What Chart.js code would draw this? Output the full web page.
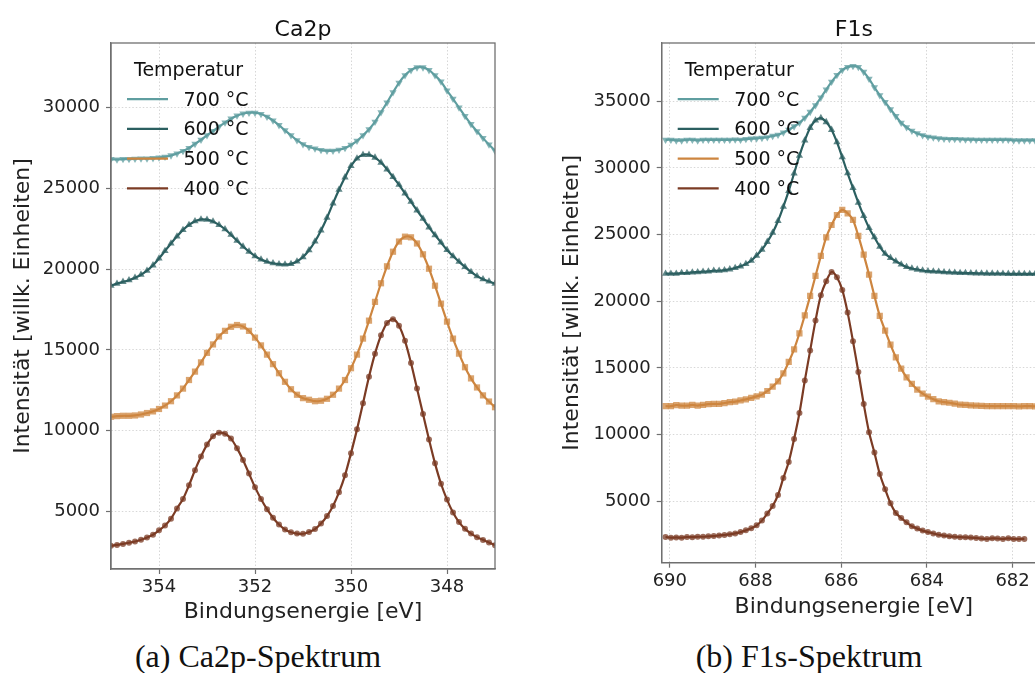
<!DOCTYPE html>
<html lang="de">
<head>
<meta charset="utf-8">
<title>Ca2p / F1s Spektren</title>
<script src="https://cdn.jsdelivr.net/npm/chart.js@4.4.1/dist/chart.umd.min.js"></script>
<style>
  html, body { margin: 0; padding: 0; background: #fff; overflow: hidden; }
  body { width: 1035px; height: 673px; position: relative; }
  canvas { position: absolute; top: 0; }
  #chartCa { left: 0; }
  #chartF { left: 540px; }
  .caption {
    position: absolute; top: 640px; line-height: 32px;
    font-family: "Liberation Serif", "DejaVu Serif", serif; font-size: 32px;
    color: #111; white-space: nowrap; transform: translateX(-50%);
  }
</style>
</head>
<body>
<canvas id="chartCa" width="530" height="630"></canvas>
<canvas id="chartF" width="560" height="630"></canvas>
<div class="caption" style="left:258px">(a) Ca2p-Spektrum</div>
<div class="caption" style="left:809px">(b) F1s-Spektrum</div>

<script>
// --- Ca2p: energy grid 355 -> 347 eV in 0.125 eV steps ---
const caStart = 355.0;
const caStep = 0.125;
const ca700 = [26790, 26770, 26790, 26790, 26810, 26830, 26830, 26850, 26890, 26940, 27020, 27140, 27290, 27480, 27730, 27980, 28260,
  28530, 28800, 29050, 29290, 29480, 29600, 29660, 29660, 29580, 29410, 29180, 28890, 28570, 28260, 27960, 27710,
  27540, 27440, 27350, 27310, 27310, 27370, 27480, 27670, 27920, 28260, 28640, 29100, 29690, 30290, 30920, 31510,
  31970, 32290, 32460, 32460, 32290, 31970, 31580, 31030, 30520, 29980, 29450, 28950, 28510, 28090, 27690, 27310];
const ca600 = [18975, 19100, 19210, 19310, 19460, 19650, 19900, 20230, 20650, 21120, 21580, 22020, 22420, 22730, 22960, 23070, 23050,
  22940, 22730, 22460, 22120, 21750, 21390, 21080, 20800, 20590, 20450, 20360, 20300, 20280, 20320, 20470, 20740,
  21160, 21700, 22380, 23170, 24060, 24900, 25670, 26370, 26830, 27060, 27060, 26890, 26580, 26160, 25690, 25210,
  24680, 24160, 23630, 23110, 22580, 22100, 21640, 21180, 20800, 20450, 20130, 19820, 19560, 19370, 19230, 19100];
const ca500 = [10870, 10910, 10930, 10930, 10950, 11010, 11100, 11200, 11350, 11560, 11830, 12190, 12610, 13140, 13660, 14230, 14820,
  15340, 15830, 16180, 16430, 16540, 16450, 16180, 15760, 15280, 14710, 14120, 13560, 13030, 12570, 12230, 12020,
  11920, 11830, 11860, 11980, 12230, 12610, 13140, 13870, 14710, 15700, 16810, 17970, 19120, 20170, 21070, 21700,
  22000, 21960, 21580, 20910, 20020, 18970, 17860, 16750, 15700, 14770, 13930, 13240, 12680, 12190, 11810, 11460];
const ca400 = [2890, 2950, 3010, 3080, 3160, 3270, 3410, 3580, 3850, 4150, 4570, 5200, 5790, 6630, 7570, 8410, 9150,
  9670, 9880, 9820, 9520, 8930, 8200, 7360, 6520, 5790, 5160, 4630, 4210, 3900, 3730, 3650, 3640,
  3750, 3930, 4270, 4730, 5360, 6200, 7250, 8620, 10090, 11710, 13340, 14770, 15900, 16660, 16900, 16500,
  15560, 14190, 12620, 11040, 9470, 7990, 6730, 5750, 4950, 4360, 3940, 3650, 3430, 3260, 3100, 2930];
const caTicksX = [354, 352, 350, 348];
const caTicksY = [5000, 10000, 15000, 20000, 25000, 30000];

// --- F1s: energy grid 690.1 eV downwards in 0.125 eV steps ---
const fStart = 690.1;
const fStep = 0.125;
const f700 = [32110, 32110, 32060, 32060, 32110, 32110, 32060, 32110, 32110, 32110, 32110, 32110, 32110, 32120, 32110, 32160, 32200,
  32210, 32250, 32300, 32400, 32480, 32650, 32860, 33110, 33380, 33760, 34200, 34700, 35280, 35880, 36460, 36960,
  37340, 37560, 37640, 37560, 37200, 36680, 36040, 35450, 34930, 34400, 33880, 33380, 33050, 32780, 32590, 32440,
  32330, 32270, 32220, 32190, 32170, 32160, 32150, 32130, 32130, 32110, 32110, 32110, 32110, 32110, 32110, 32110,
  32060, 32060, 32060, 32060, 32060];
const f600 = [22070, 22070, 22070, 22120, 22120, 22170, 22190, 22220, 22240, 22290, 22290, 22340, 22400, 22500, 22620, 22800, 23050,
  23430, 23880, 24460, 25140, 26020, 27100, 28280, 29590, 30920, 32060, 33010, 33570, 33740, 33440, 32860, 31930,
  30800, 29600, 28500, 27400, 26400, 25500, 24800, 24100, 23570, 23260, 23000, 22770, 22570, 22460, 22380, 22310,
  22260, 22240, 22220, 22190, 22170, 22150, 22130, 22120, 22110, 22100, 22090, 22080, 22080, 22070, 22070, 22060,
  22060, 22060, 22050, 22050, 22050];
const f500 = [12130, 12130, 12220, 12170, 12170, 12230, 12170, 12230, 12280, 12300, 12300, 12370, 12430, 12480, 12560, 12640, 12750,
  12870, 13000, 13270, 13600, 14000, 14600, 15450, 16400, 17600, 18950, 20400, 21900, 23400, 24800, 25720, 26470,
  26850, 26600, 26100, 24900, 23500, 22000, 20400, 18900, 17800, 16750, 15800, 14950, 14300, 13800, 13380, 13080,
  12850, 12660, 12500, 12440, 12390, 12320, 12250, 12230, 12190, 12170, 12160, 12140, 12130, 12130, 12140, 12130,
  12130, 12120, 12130, 12130, 12120];
const f400 = [2320, 2270, 2290, 2270, 2320, 2310, 2340, 2340, 2370, 2390, 2440, 2470, 2520, 2590, 2690, 2820, 2970,
  3200, 3550, 4080, 4650, 5470, 6750, 7950, 9670, 11620, 14050, 16300, 18550, 20450, 21500, 22200, 21800,
  20850, 19150, 17000, 14700, 12300, 10170, 8650, 7050, 5900, 4850, 4120, 3740, 3420, 3130, 2950, 2800,
  2690, 2580, 2490, 2430, 2370, 2340, 2310, 2300, 2280, 2250, 2200, 2180, 2220, 2210, 2170, 2220,
  2170, 2170, 2180];
const fTicksX = [690, 688, 686, 684, 682];
const fTicksY = [5000, 10000, 15000, 20000, 25000, 30000, 35000];

const tempLabels = ["700 °C", "600 °C", "500 °C", "400 °C"];

// styles, in legend order
const lineColors = ["#5f9ea0", "#2b5f60", "#cd853f", "#7b3b24"];
const markerColors = ["rgba(95,158,160,0.75)", "rgba(43,95,96,0.75)", "rgba(205,133,63,0.75)", "rgba(123,59,36,0.75)"];
const markerShapes = [
  { pointStyle: "triangle", pointRotation: 180, pointRadius: 4.2 },
  { pointStyle: "triangle", pointRotation: 0, pointRadius: 4.2 },
  { pointStyle: "rect", pointRotation: 0, pointRadius: 4.4 },
  { pointStyle: "circle", pointRotation: 0, pointRadius: 3.0 }
];

const FONT = "DejaVu Sans";
const textColor = "#222";
const frameColor = "#707070";
const gridColor = "rgba(0,0,0,0.2)";

Chart.defaults.font.family = FONT;

// frame, title and legend drawn on top of the curves
const panelDecor = {
  id: "panelDecor",
  afterDatasetsDraw(chart, args, o) {
    const { ctx, chartArea: a } = chart;
    ctx.save();
    ctx.strokeStyle = frameColor;
    ctx.lineWidth = 1.3;
    ctx.strokeRect(a.left, a.top, a.right - a.left, a.bottom - a.top);

    ctx.fillStyle = "#111";
    ctx.font = "22px '" + FONT + "'";
    ctx.textAlign = "center";
    ctx.textBaseline = "alphabetic";
    ctx.fillText(o.title, (a.left + a.right) / 2, 36);

    ctx.font = "19px '" + FONT + "'";
    ctx.textAlign = "left";
    ctx.fillText("Temperatur", a.left + 23, a.top + 32.7);
    tempLabels.forEach((lab, k) => {
      const base = a.top + 62.7 + k * 29.7;
      ctx.strokeStyle = lineColors[k];
      ctx.lineWidth = 2.3;
      ctx.beginPath();
      ctx.moveTo(a.left + 16, base - 6.5);
      ctx.lineTo(a.left + 57, base - 6.5);
      ctx.stroke();
      ctx.fillText(lab, a.left + 72.5, base);
    });
    ctx.restore();
  }
};

function makePanel(id, p) {
  const datasets = [];
  p.series.forEach((vals, k) => {
    const pts = vals.map((v, i) => ({ x: +(p.start - p.step * i).toFixed(3), y: v }));
    datasets.push({
      data: pts,
      showLine: false,
      pointStyle: markerShapes[k].pointStyle,
      rotation: markerShapes[k].pointRotation,
      pointRadius: markerShapes[k].pointRadius,
      pointBackgroundColor: markerColors[k],
      pointBorderWidth: 0,
      order: 10 + k
    });
    datasets.push({
      data: pts,
      borderColor: lineColors[k],
      borderWidth: 2.2,
      pointRadius: 0,
      tension: 0.3,
      order: k
    });
  });

  const tickFont = { family: FONT, size: 18 };
  const titleFont = { family: FONT, size: 22 };

  return new Chart(document.getElementById(id), {
    type: "line",
    data: { datasets },
    options: {
      responsive: false,
      animation: false,
      events: [],
      layout: { padding: { left: 0, top: 43, right: p.padRight, bottom: 0 } },
      plugins: {
        legend: { display: false },
        tooltip: { enabled: false },
        panelDecor: { title: p.title }
      },
      scales: {
        x: {
          type: "linear",
          min: p.xMin,
          max: p.xMax,
          reverse: true,
          afterBuildTicks: s => { s.ticks = p.xTicks.map(v => ({ value: v })); },
          afterFit: s => { s.height = p.xAxisHeight; },
          grid: { color: gridColor, lineWidth: 0.8, tickLength: 5, tickColor: frameColor, tickWidth: 1.2 },
          border: { color: frameColor, width: 1.3, dash: [1.5, 2] },
          ticks: { color: textColor, font: tickFont, padding: 3, maxRotation: 0, callback: v => String(v) },
          title: { display: true, text: "Bindungsenergie [eV]", color: textColor, font: titleFont,
                   padding: { top: 0, bottom: p.xTitlePad } }
        },
        y: {
          type: "linear",
          min: p.yMin,
          max: p.yMax,
          afterBuildTicks: s => { s.ticks = p.yTicks.map(v => ({ value: v })); },
          afterFit: s => { s.width = p.yAxisWidth; },
          grid: { color: gridColor, lineWidth: 0.8, tickLength: 5, tickColor: frameColor, tickWidth: 1.2 },
          border: { color: frameColor, width: 1.3, dash: [1.5, 2] },
          ticks: { color: textColor, font: tickFont, padding: 6, callback: v => String(v) },
          title: { display: true, text: "Intensität [willk. Einheiten]", color: textColor, font: titleFont,
                   padding: { top: p.yTitlePad, bottom: 0 } }
        }
      }
    },
    plugins: [panelDecor]
  });
}

makePanel("chartCa", {
  title: "Ca2p",
  series: [ca700, ca600, ca500, ca400],
  start: caStart, step: caStep,
  xMin: 347, xMax: 355, yMin: 1460, yMax: 33970,
  xTicks: caTicksX, yTicks: caTicksY,
  padRight: 35, yAxisWidth: 111, xAxisHeight: 61,
  xTitlePad: 4.3, yTitlePad: 9.8
});

makePanel("chartF", {
  title: "F1s",
  series: [f700, f600, f500, f400],
  start: fStart, step: fStep,
  xMin: 681.22, xMax: 690.19, yMin: 394, yMax: 39370,
  xTicks: fTicksX, yTicks: fTicksY,
  padRight: 54, yAxisWidth: 121.7, xAxisHeight: 67.3,
  xTitlePad: 9.8, yTitlePad: 19.3
});
</script>
</body>
</html>
